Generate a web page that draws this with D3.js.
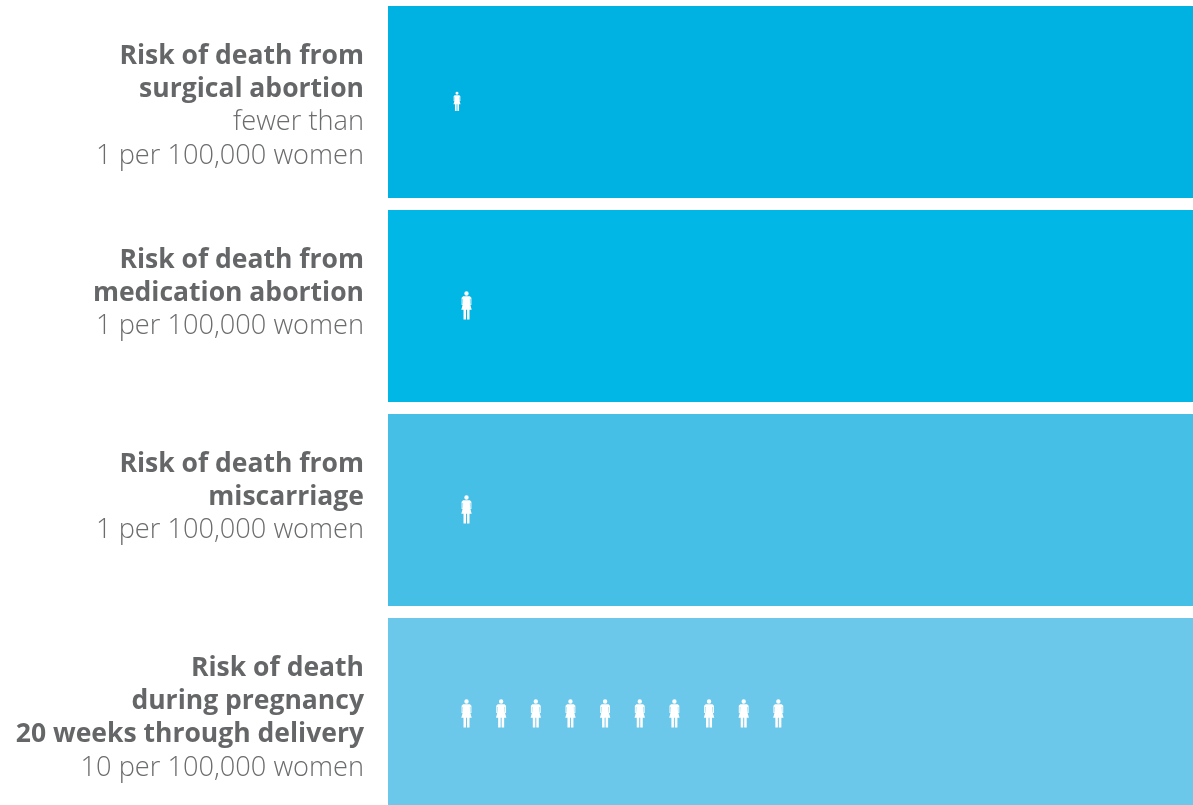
<!DOCTYPE html>
<html>
<head>
<meta charset="utf-8">
<script src="https://cdn.jsdelivr.net/npm/d3@7"></script>
<style>
html, body { margin: 0; padding: 0; background: #fff; overflow: hidden; }
svg { display: block; will-change: transform; }
text { font-family: "Open Sans", "Noto Sans", sans-serif; }
</style>
</head>
<body>
<div id="chart"></div>
<script>
// data
var categories = ["surgical", "medication", "miscarriage", "pregnancy"];
var boldLines = [
	["Risk of death from", "surgical abortion"],
	["Risk of death from", "medication abortion"],
	["Risk of death from", "miscarriage"],
	["Risk of death", "during pregnancy", "20 weeks through delivery"]
];
var lightLines = [
	["fewer than", "1 per 100,000 women"],
	["1 per 100,000 women"],
	["1 per 100,000 women"],
	["10 per 100,000 women"]
];
// deaths per 100,000 women, "fewer than 1" shown as a smaller figure
var deaths = [0.68, 1, 1, 10];
var bandColors = ["#00b2e2", "#00b7e5", "#45bfe6", "#6cc8ea"];

var WIDTH = 1193, HEIGHT = 805;
var TEXT_RIGHT = 364, LINE_H = 33.3, FIRST_BASE = 57.6;

var svg = d3.select("#chart").append("svg")
	.attr("width", WIDTH)
	.attr("height", HEIGHT);

// last band runs off the bottom of the page
var yScale = d3.scaleBand()
	.domain(categories)
	.range([6, 810])
	.paddingInner(12 / 204);

var xScale = d3.scaleLinear()
	.domain([0, 10])
	.range([466.5, 813]);

// one woman, 28px tall, centred on 0,0
var womanPath = "M-2.2,-12a2.2,2.2 0 1,0 4.4,0a2.2,2.2 0 1,0 -4.4,0Z"
	+ "M-3.4,-9.2H3.4L4.9,-7.8V-0.6H3.9V-6.4H3.4L3.6,-1.6L5.2,4.2H3V14H0.5V4.2H-0.5V14H-3V4.2H-5.2L-3.6,-1.6L-3.4,-6.4H-3.9V-0.6H-4.9V-7.8Z";

var rows = svg.selectAll("g.row")
	.data(categories)
	.enter()
	.append("g")
	.attr("class", "row")
	.attr("transform", d => `translate(0,${yScale(d)})`);

rows.append("rect")
	.attr("x", 388)
	.attr("y", 0)
	.attr("width", WIDTH - 388)
	.attr("height", yScale.bandwidth())
	.style("fill", (d, i) => bandColors[i]);

rows.each(function(d, i){
	var row = d3.select(this);
	var all = boldLines[i].map(t => ({t: t, bold: true}))
		.concat(lightLines[i].map(t => ({t: t, bold: false})));

	row.selectAll("text")
		.data(all)
		.enter()
		.append("text")
		.attr("x", TEXT_RIGHT)
		.attr("y", (l, j) => FIRST_BASE + j * LINE_H)
		.attr("text-anchor", "end")
		.style("font-size", l => l.bold ? "26.5px" : "27.2px")
		.style("font-weight", l => l.bold ? 700 : 300)
		.style("fill", l => l.bold ? "#656668" : "#6b6c6e")
		.text(l => l.t);

	var n = Math.ceil(deaths[i]);
	var s = Math.min(1, deaths[i]);
	// small figure sits left of the column start
	var shift = s < 1 ? -9.5 : 0;
	row.selectAll("path")
		.data(d3.range(n))
		.enter()
		.append("path")
		.attr("d", womanPath)
		.attr("transform", k => `translate(${xScale(k) + shift},${yScale.bandwidth() / 2 - 0.5}) scale(${s})`)
		.style("fill", "#fff");
});
</script>
</body>
</html>
